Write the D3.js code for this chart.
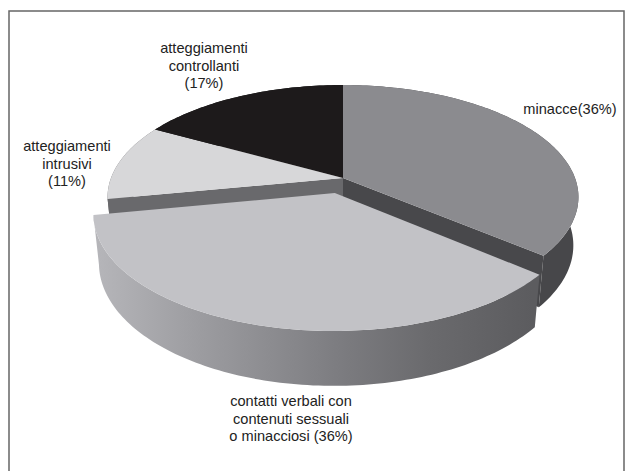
<!DOCTYPE html>
<html><head><meta charset="utf-8">
<script src="https://cdn.jsdelivr.net/npm/d3@7"></script>
<style>html,body{margin:0;padding:0;background:#fff;}svg{display:block}</style>
</head><body>
<svg id="chart" width="632" height="471"></svg>
<script>
// ---- data ----
const categories = ["minacce", "contatti verbali con contenuti sessuali o minacciosi", "atteggiamenti intrusivi", "atteggiamenti controllanti"];
const values = [36, 36, 11, 17];
const labelLines = [
  ["minacce(36%)"],
  ["contatti verbali con", "contenuti sessuali", "o minacciosi (36%)"],
  ["atteggiamenti", "intrusivi", "(11%)"],
  ["atteggiamenti", "controllanti", "(17%)"]
];
const exploded = [false, true, false, false];

// ---- styles / layout ----
const topColors  = ["#8b8b8f", "#c2c2c6", "#d7d7d9", "#1d1a1b"];
const wallColors = ["#47474a", "url(#wallGrad)", "#69696c", "#111111"];
const cutColors  = ["#48484b", "#777", "#69696c", "#111111"];
const labelPos = [[570, 114], [291, 406], [67, 151], [204, 53]];
const lineGap = 17.7;

const svg = d3.select("#chart");
const W = 632, Hh = 471;

// frame
svg.append("path")
  .attr("d", "M9,471V11H624V471")
  .attr("fill", "none").attr("stroke", "#666").attr("stroke-width", 1.5);

// gradient for front wall
const defs = svg.append("defs");
const grad = defs.append("linearGradient").attr("id", "wallGrad")
  .attr("gradientUnits", "userSpaceOnUse").attr("x1", 98).attr("x2", 532).attr("y1", 0).attr("y2", 0);
[[0, "#b5b5b9"], [0.235, "#9c9ca0"], [0.558, "#7c7c80"], [0.765, "#6a6a6d"], [1, "#5c5c5f"]]
  .forEach(([o, c]) => grad.append("stop").attr("offset", o).attr("stop-color", c));

// ---- 3D projection (perspective) ----
const cx = 343, cy = 178, D = 5.195, F = 1205.3, sinP = 0.469, cosP = Math.sqrt(1 - sinP * sinP);
const thick = 0.238, explode = 0.139;
function proj(X, Y, Z) {
  const d = D - Y * sinP + Z * cosP;
  const v = Y * cosP + Z * sinP;
  return [cx + F * X / d, cy - F * v / d];
}

const pie = d3.pie().sort(null).startAngle(0).endAngle(2 * Math.PI);
const arcs = pie(values);
const line = d3.line();

function offset(i) {
  if (!exploded[i]) return [0, 0];
  const a = arcs[i];
  const m = (a.startAngle + a.endAngle) / 2;
  return [explode * Math.sin(m), explode * Math.cos(m)];
}
function rimPts(i, Y, a0, a1) {
  const [ox, oz] = offset(i);
  const n = Math.max(4, Math.ceil(Math.abs(a1 - a0) / 0.02));
  return d3.range(n + 1).map(k => {
    const t = a0 + (a1 - a0) * k / n;
    return proj(Math.sin(t) + ox, Y, Math.cos(t) + oz);
  });
}
function center(i, Y) { const [ox, oz] = offset(i); return proj(ox, Y, oz); }

function topPath(i) {
  const a = arcs[i];
  return line([center(i, 0), ...rimPts(i, 0, a.startAngle, a.endAngle)]) + "Z";
}
function wallPath(i) {
  const a = arcs[i];
  return line([...rimPts(i, 0, a.startAngle, a.endAngle), ...rimPts(i, -thick, a.endAngle, a.startAngle)]) + "Z";
}
function cutPath(i, ang) {
  const [ox, oz] = offset(i);
  return line([center(i, 0), proj(Math.sin(ang) + ox, 0, Math.cos(ang) + oz),
               proj(Math.sin(ang) + ox, -thick, Math.cos(ang) + oz), center(i, -thick)]) + "Z";
}

const g = svg.append("g");
const n = values.length;
const back = d3.range(n).filter(i => !exploded[i]);
const front = d3.range(n).filter(i => exploded[i]);

// back walls
back.forEach(i => g.append("path").attr("d", wallPath(i)).attr("fill", wallColors[i]));
// cut faces exposed by exploded neighbours
back.forEach(i => {
  const next = (i + 1) % n, prev = (i - 1 + n) % n;
  if (exploded[next]) g.append("path").attr("d", cutPath(i, arcs[i].endAngle)).attr("fill", cutColors[i]);
  if (exploded[prev]) g.append("path").attr("d", cutPath(i, arcs[i].startAngle)).attr("fill", cutColors[i]);
});
// back tops
back.forEach(i => g.append("path").attr("d", topPath(i)).attr("fill", topColors[i]));
// exploded slices
front.forEach(i => {
  g.append("path").attr("d", wallPath(i)).attr("fill", wallColors[i]);
  g.append("path").attr("d", topPath(i)).attr("fill", topColors[i]);
});

// labels
labelLines.forEach((lines, i) => {
  const t = svg.append("text")
    .attr("x", labelPos[i][0]).attr("y", labelPos[i][1])
    .attr("text-anchor", "middle")
    .attr("font-family", "'Liberation Sans', Arial, sans-serif")
    .attr("font-size", "14.6px").attr("fill", "#222");
  lines.forEach((s, k) => t.append("tspan").attr("x", labelPos[i][0]).attr("y", labelPos[i][1] + k * lineGap).text(s));
});
</script>
</body></html>
